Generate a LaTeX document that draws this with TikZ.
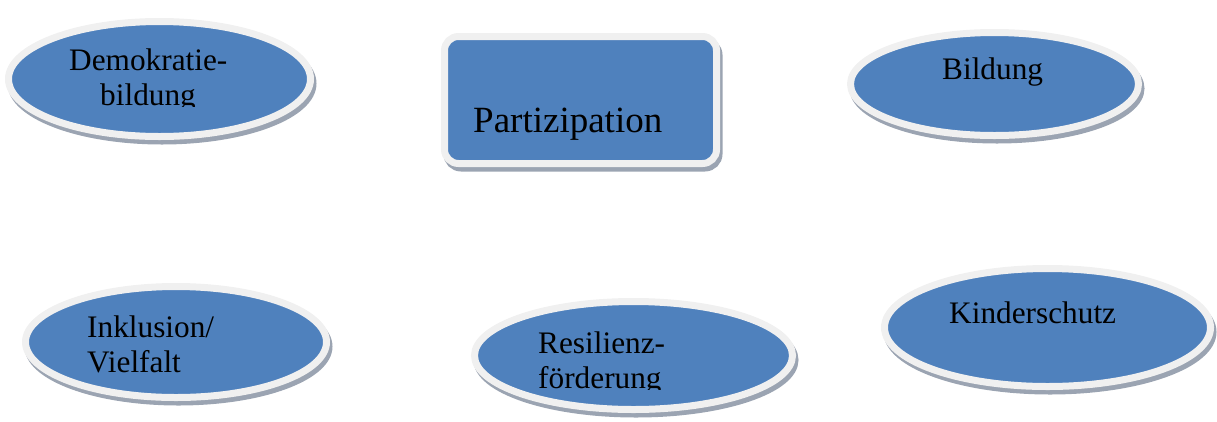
\documentclass[tikz,border=0pt]{standalone}
\usepackage{fontspec}
\setmainfont{Liberation Serif}
\usetikzlibrary{shapes.geometric,shadows}
\definecolor{bluefill}{HTML}{4F81BD}
\definecolor{ringc}{HTML}{F0F0F0}
\definecolor{shadowc}{HTML}{9BA4B2}
\tikzset{
  bubble/.style={ellipse, inner sep=0pt, fill=bluefill, draw=ringc, line width=7pt,
    general shadow={fill=shadowc, draw=shadowc, line width=7pt, shadow xshift=2.5pt, shadow yshift=-4.5pt}},
  boxnode/.style={rectangle, rounded corners=14pt, inner sep=0pt, fill=bluefill, draw=ringc, line width=7pt,
    general shadow={fill=shadowc, draw=shadowc, line width=7pt, shadow xshift=2.5pt, shadow yshift=-4.5pt}},
  lbl/.style={anchor=base west, inner sep=0pt, font=\fontsize{31.3}{37}\selectfont},
  biglbl/.style={anchor=base west, inner sep=0pt, font=\fontsize{37}{44}\selectfont}
}
\begin{document}
\begin{tikzpicture}[x=1pt,y=-1pt]
\useasboundingbox (0,0) rectangle (1217,421);
% shapes
\node[bubble, minimum width=302pt, minimum height=115pt] (demo) at (159.5,79) {};
\node[boxnode, minimum width=272pt, minimum height=127pt] (part) at (580.5,100) {};
\node[bubble, minimum width=288pt, minimum height=103pt] (bild) at (994.5,84) {};
\node[bubble, minimum width=301pt, minimum height=111pt] (inkl) at (176,342) {};
\node[bubble, minimum width=318pt, minimum height=108pt] (resi) at (633.5,355.5) {};
\node[bubble, minimum width=326pt, minimum height=118pt] (kind) at (1047.5,327.5) {};
% texts
\node[lbl] (demo1) at (69,70) {Demokratie-};
\begin{scope}
\clip (0,75) rectangle (330,106);
\node[lbl] (demo2) at (100,105) {bildung};
\end{scope}
\node[biglbl] (part1) at (473,132) {Partizipation};
\node[lbl] (bild1) at (942,79) {Bildung};
\node[lbl] (inkl1) at (87,337) {Inklusion/};
\node[lbl] (inkl2) at (87,372) {Vielfalt};
\node[lbl] (resi1) at (538,353) {Resilienz-};
\begin{scope}
\clip (470,358) rectangle (800,389);
\node[lbl] (resi2) at (538,388) {förderung};
\end{scope}
\node[lbl] (kind1) at (949,323) {Kinderschutz};
\end{tikzpicture}
\end{document}
